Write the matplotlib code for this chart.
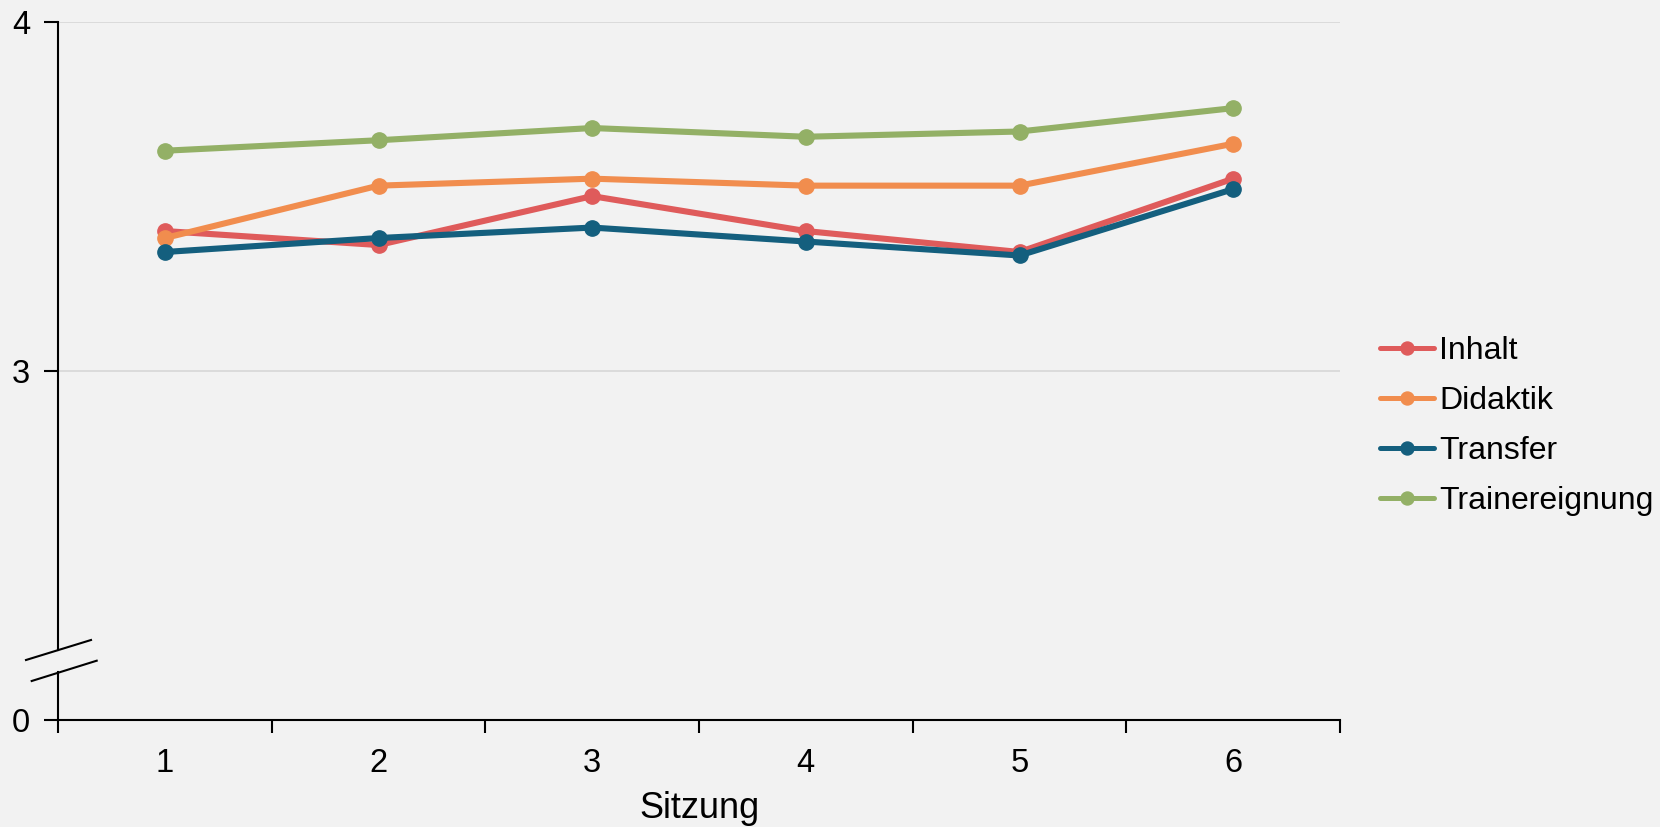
import numpy as np
import matplotlib
matplotlib.use("Agg")
import matplotlib.pyplot as plt

sessions = ["1", "2", "3", "4", "5", "6"]
series_names = ["Inhalt", "Didaktik", "Transfer", "Trainereignung"]
inhalt = [3.40, 3.36, 3.50, 3.40, 3.34, 3.55]
didaktik = [3.38, 3.53, 3.55, 3.53, 3.53, 3.65]
transfer = [3.34, 3.38, 3.41, 3.37, 3.33, 3.52]
trainereignung = [3.63, 3.66, 3.695, 3.67, 3.685, 3.752]
colors = ["#DF5B5B", "#F18D4E", "#145F7E", "#93B066"]
yticks = [0, 3, 4]

plt.rcParams['font.family'] = ['Liberation Sans', 'DejaVu Sans']
BG = "#F2F2F2"

fig = plt.figure(figsize=(16.6, 8.27), dpi=100, facecolor=BG)
ax = fig.add_axes([58/1660, 1-720/827, (1340-58)/1660, (720-21.5)/827])
ax.set_facecolor(BG)


def fwd(v):
    v = np.asarray(v, dtype=float)
    return np.where(v >= 3, v - 2, v / 3)


def inv(p):
    p = np.asarray(p, dtype=float)
    return np.where(p >= 1, p + 2, p * 3)


ax.set_yscale('function', functions=(fwd, inv))
ax.set_ylim(0, 4)
ax.set_xlim(-0.5, 5.5)

x = np.arange(len(sessions))
for name, vals, c in zip(series_names, [inhalt, didaktik, transfer, trainereignung], colors):
    ax.plot(x, vals, color=c, lw=4.4, marker='o', ms=11, label=name,
            solid_capstyle='round', zorder=3)

# grid
for yv in [3, 4]:
    ax.axhline(yv, color="#D9D9D9", lw=1.3, zorder=1)

for s in ax.spines.values():
    s.set_visible(False)

# x axis line
ax.plot([0, 1], [0, 0], transform=ax.transAxes, color='black', lw=1.5, clip_on=False, zorder=4)
# y axis line with break
ax.plot([0, 0], [0.1002, 1], transform=ax.transAxes, color='black', lw=1.5, clip_on=False, zorder=4)
ax.plot([0, 0], [0, 0.069], transform=ax.transAxes, color='black', lw=1.5, clip_on=False, zorder=4)
W, H = 1282, 698.5
ax.plot([(26-58)/W, (91-58)/W], [(720-660)/H, (720-640)/H], transform=ax.transAxes,
        color='black', lw=1.5, clip_on=False, zorder=4)
ax.plot([(31.7-58)/W, (96.7-58)/W], [(720-681)/H, (720-660.7)/H], transform=ax.transAxes,
        color='black', lw=1.5, clip_on=False, zorder=4)

ax.set_yticks(yticks)
ax.set_yticklabels([str(t) for t in yticks])
ax.yaxis.set_minor_locator(matplotlib.ticker.NullLocator())
ax.tick_params(axis='y', length=10, width=1.5, direction='out', pad=10, labelsize=23.5)

ax.set_xticks(x)
ax.set_xticklabels(sessions)
ax.set_xticks(np.arange(-0.5, 6.0, 1.0), minor=True)
ax.tick_params(axis='x', which='major', length=0, pad=20, labelsize=23.5)
ax.tick_params(axis='x', which='minor', length=9, width=1.5, direction='out')

ax.set_xlabel("Sitzung", fontsize=26)
ax.xaxis.set_label_coords(0.5, -0.102)

leg = fig.legend(loc='center left', bbox_to_anchor=(1380/1660, 1-426/827),
                 bbox_transform=fig.transFigure, frameon=False, fontsize=23,
                 handlelength=1.7, handletextpad=0.15, labelspacing=0.62,
                 borderpad=0, borderaxespad=0, markerscale=0.85)
for ln in leg.get_lines():
    ln.set_linewidth(3.6)

fig.savefig("out.png", dpi=100, facecolor=BG)
